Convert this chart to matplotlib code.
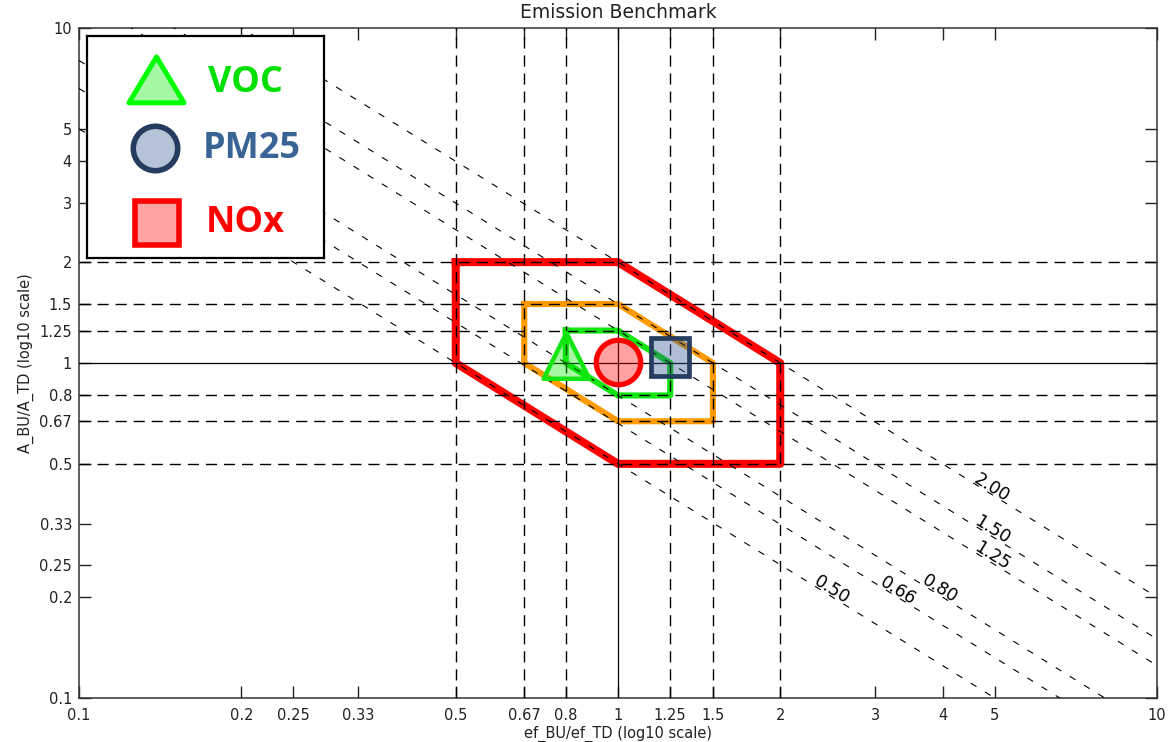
import numpy as np
import matplotlib.pyplot as plt
from matplotlib.path import Path
from matplotlib.ticker import NullLocator

# tick positions and labels (same on both axes)
tick_vals = [0.1, 0.2, 0.25, 0.33, 0.5, 0.67, 0.8, 1, 1.25, 1.5, 2, 3, 4, 5, 10]
tick_text = ['0.1', '0.2', '0.25', '0.33', '0.5', '0.67', '0.8', '1',
             '1.25', '1.5', '2', '3', '4', '5', '10']

# dashed reference ratios
ref_ratios = [0.5, 0.67, 0.8, 1.25, 1.5, 2]

# iso-lines of the total ratio, x*y = const
iso_vals = [0.50, 0.66, 0.80, 1.25, 1.50, 2.00]
iso_labels = ['0.50', '0.66', '0.80', '1.25', '1.50', '2.00']
iso_label_x = [2.49, 3.31, 3.96, 4.94, 4.94, 4.94]

# acceptance envelopes (factor 2, 1.5, 1.25)
env2_x = [0.5, 1, 2, 2, 1, 0.5, 0.5]
env2_y = [2, 2, 1, 0.5, 0.5, 1, 2]
env15_x = [0.67, 1, 1.5, 1.5, 1, 0.67, 0.67]
env15_y = [1.5, 1.5, 1, 0.67, 0.67, 1, 1.5]
env125_x = [0.8, 1, 1.25, 1.25, 1, 0.8, 0.8]
env125_y = [1.25, 1.25, 1, 0.8, 0.8, 1, 1.25]

# benchmark points
species = ['VOC', 'PM25', 'NOx']
ef_ratio = [0.8, 1.0, 1.25]
a_ratio = [1.0, 1.01, 1.04]


def triangle(half_width):
    # closed triangle with its centroid at the origin
    return Path([(-half_width, -1/3), (half_width, -1/3), (0, 2/3), (0, 0)],
                closed=True)


fig = plt.figure(figsize=(11.73, 7.42), dpi=100)
ax = fig.add_axes([79/1173, 1 - 698/742, 1078/1173, 670/742])
ax.set_xscale('log')
ax.set_yscale('log')
ax.set_xlim(0.1, 10)
ax.set_ylim(0.1, 10)

# envelopes
for xs, ys, col, lw in [(env2_x, env2_y, '#ff0000', 5.8),
                        (env15_x, env15_y, '#ff9a00', 4.4),
                        (env125_x, env125_y, '#11e611', 4.4)]:
    ax.plot(xs, ys, color=col, lw=lw, solid_joinstyle='round', zorder=2)

# reference grid
for r in ref_ratios:
    ax.axvline(r, color='black', lw=1, dashes=(8, 5), zorder=3)
    ax.axhline(r, color='black', lw=1, dashes=(8, 5), zorder=3)
ax.axvline(1, color='black', lw=0.9, zorder=3)
ax.axhline(1, color='black', lw=0.9, zorder=3)

# iso-lines
xline = np.array([0.1, 10])
for c in iso_vals:
    ax.plot(xline, c / xline, color='black', lw=0.8, dashes=(6, 9), zorder=3)

p1 = ax.transData.transform((1, 1))
p2 = ax.transData.transform((10, 0.1))
angle = np.degrees(np.arctan2(p2[1] - p1[1], p2[0] - p1[0]))
for c, lab, lx in zip(iso_vals, iso_labels, iso_label_x):
    ax.annotate(lab, (lx, c / lx), xytext=(0, 5), textcoords='offset points',
                rotation=angle, rotation_mode='anchor', ha='center', va='center',
                fontsize=12.5, color='black', zorder=4)

# points
ax.plot(ef_ratio[0], a_ratio[0], marker=triangle(0.5), ms=44, mew=3.2,
        mec='#11e611', mfc=(0.0, 0.9, 0.0, 0.35), ls='none', zorder=5)
ax.plot(ef_ratio[1], a_ratio[1], marker='o', ms=32, mew=3.8,
        mec='#ff0000', mfc=(1.0, 0.0, 0.0, 0.37), ls='none', zorder=5)
ax.plot(ef_ratio[2], a_ratio[2], marker='s', ms=28, mew=3.4,
        mec='#253d5e', mfc=(0.18, 0.33, 0.56, 0.38), ls='none', zorder=5)

ax.set_xticks(tick_vals, tick_text)
ax.set_yticks(tick_vals, tick_text)
ax.xaxis.set_minor_locator(NullLocator())
ax.yaxis.set_minor_locator(NullLocator())
ax.tick_params(which='major', direction='in', length=8.5, width=1,
               top=True, right=True, labelsize=10.5, colors='#222222')
ax.tick_params(axis='x', pad=7)
ax.tick_params(axis='y', pad=5)
for sp in ax.spines.values():
    sp.set_linewidth(1.1)
    sp.set_color('#333333')

ax.set_title('Emission Benchmark', fontsize=13.5, color='#222222', pad=7)
ax.set_xlabel('ef_BU/ef_TD (log10 scale)', fontsize=10.5, color='#222222', labelpad=2)
ax.set_ylabel('A_BU/A_TD (log10 scale)', fontsize=10.5, color='#222222', labelpad=4)

# legend panel
lg = fig.add_axes([87/1173, 1 - 258/742, 237/1173, 222/742])
lg.set_xlim(0, 237)
lg.set_ylim(222, 0)
lg.set_xticks([])
lg.set_yticks([])
for sp in lg.spines.values():
    sp.set_linewidth(1.6)
    sp.set_color('black')
lg.set_zorder(10)

lg.plot(69, 51, marker=triangle(0.6), ms=44, mew=3.6, mec='#00ff00', mfc='#a6f7a6')
lg.plot(68, 112, marker='o', ms=32, mew=4, mec='#253c5e', mfc='#b4c3d6')
lg.plot(70, 187, marker='s', ms=32, mew=4, mec='#ff0000', mfc='#ffa3a3')

leg_colors = ['#00e000', '#3b6496', '#ff0000']
leg_pos = [(158, 47), (165, 113), (158, 187)]
for name, col, (tx, ty) in zip(species, leg_colors, leg_pos):
    lg.text(tx, ty, name, color=col, fontsize=26, fontweight='bold',
            family='Open Sans', ha='center', va='center')

fig.savefig('out.png', dpi=100)
